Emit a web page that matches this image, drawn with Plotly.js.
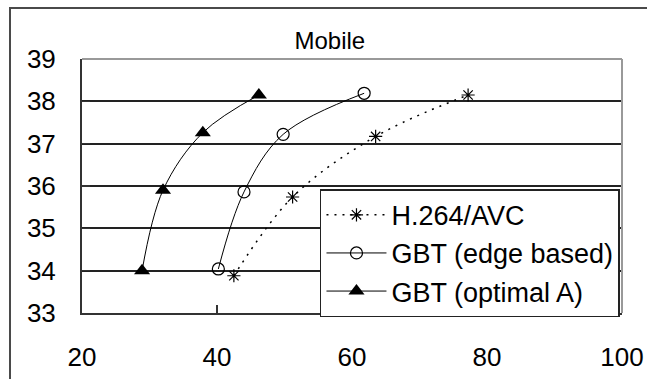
<!DOCTYPE html>
<html>
<head>
<meta charset="utf-8">
<script src="https://cdn.plot.ly/plotly-3.0.1.min.js"></script>
<style>
  html, body { margin: 0; padding: 0; background: #fff; }
  #wrap { position: relative; width: 647px; height: 379px; overflow: hidden; }
  #chart { width: 647px; height: 379px; }
  #frame { position: absolute; left: 9px; top: 7px; width: 800px; height: 600px;
           border-left: 2px solid #4a4a4a; border-top: 2px solid #4a4a4a; pointer-events: none; }
</style>
</head>
<body>
<div id="wrap">
  <div id="chart"></div>
  <div id="frame"></div>
</div>
<script>
const chartTitle = "Mobile";
const seriesNames = ["H.264/AVC", "GBT (edge based)", "GBT (optimal A)"];

const h264X = [42.5, 51.2, 63.5, 77.2];
const h264Y = [33.88, 35.74, 37.17, 38.15];

const edgeX = [40.2, 44.0, 49.8, 61.8];
const edgeY = [34.04, 35.86, 37.22, 38.19];

const optX = [28.9, 32.0, 37.9, 46.2];
const optY = [34.0, 35.9, 37.26, 38.15];

const xTicks = [20, 40, 60, 80, 100];
const yTicks = [33, 34, 35, 36, 37, 38, 39];

const traces = [
  {
    x: h264X, y: h264Y, name: seriesNames[0], type: "scatter", mode: "lines+markers",
    line: { color: "#000", width: 1.5, dash: "2px,6px", shape: "spline", smoothing: 1 },
    marker: { symbol: "asterisk-open", size: 11, color: "#000", line: { color: "#000", width: 1.2 } }
  },
  {
    x: edgeX, y: edgeY, name: seriesNames[1], type: "scatter", mode: "lines+markers",
    line: { color: "#000", width: 1, shape: "spline", smoothing: 1 },
    marker: { symbol: "circle-open", size: 12, color: "#000", line: { color: "#000", width: 1.2 } }
  },
  {
    x: optX, y: optY, name: seriesNames[2], type: "scatter", mode: "lines+markers",
    line: { color: "#000", width: 1, shape: "spline", smoothing: 1 },
    marker: { symbol: "triangle-up", size: 14, color: "#000" }
  }
];

const layout = {
  width: 647, height: 379,
  margin: { l: 82, r: 25, t: 59, b: 66, pad: 0 },
  paper_bgcolor: "#fff", plot_bgcolor: "#fff",
  font: { family: "Liberation Sans, Arial, sans-serif", color: "#000", size: 26 },
  title: {
    text: chartTitle, font: { size: 24, color: "#000", family: "Liberation Sans, Arial, sans-serif" },
    x: 0.459, xref: "paper", xanchor: "center", y: 0.894, yref: "container", yanchor: "middle"
  },
  showlegend: true,
  legend: {
    x: 0.4407, y: 0.487, xanchor: "left", yanchor: "top",
    bgcolor: "#fff", bordercolor: "#222", borderwidth: 1.5,
    font: { size: 27, color: "#000" }, itemwidth: 60, tracegroupgap: 0
  },
  xaxis: {
    range: [20, 100], tickvals: xTicks, ticktext: xTicks.map(String),
    showgrid: false, zeroline: false,
    showline: true, linecolor: "#333", linewidth: 2,
    ticks: "inside", ticklen: 8, tickcolor: "#333", tickwidth: 1.5,
    ticklabelstandoff: 20, fixedrange: true
  },
  yaxis: {
    range: [33, 39], tickvals: yTicks, ticktext: yTicks.map(String),
    showgrid: true, gridcolor: "#222", gridwidth: 2, zeroline: false,
    showline: true, linecolor: "#333", linewidth: 2,
    ticks: "inside", ticklen: 8, tickcolor: "#333", tickwidth: 1.5,
    ticklabelstandoff: 19, fixedrange: true
  },
  shapes: [
    { type: "line", xref: "paper", yref: "paper", x0: 0, x1: 1, y0: 1, y1: 1, line: { color: "#999", width: 2 } },
    { type: "line", xref: "paper", yref: "paper", x0: 1, x1: 1, y0: 0, y1: 1, line: { color: "#999", width: 2 } }
  ]
};

Plotly.newPlot("chart", traces, layout, { displayModeBar: false, staticPlot: true });
</script>
</body>
</html>
